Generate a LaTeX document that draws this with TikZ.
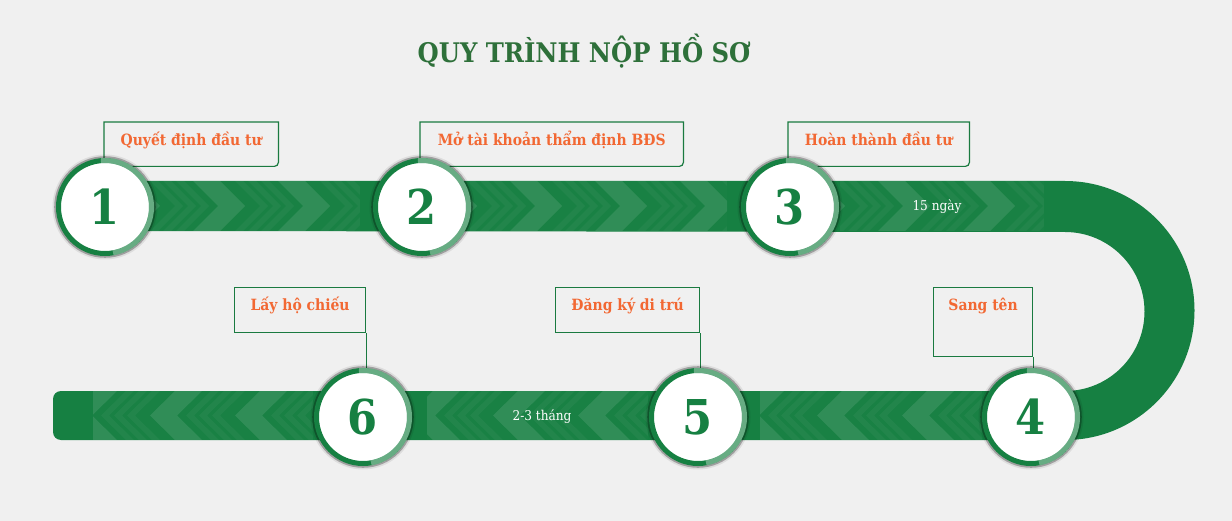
\documentclass[tikz,border=0pt]{standalone}
\usepackage{fontspec}
\setmainfont{DejaVu Serif Condensed}
\usetikzlibrary{positioning}
\definecolor{pagebg}{RGB}{240,240,240}
\definecolor{band}{RGB}{22,128,66}
\definecolor{ttlgreen}{RGB}{46,112,58}
\definecolor{orng}{RGB}{242,104,51}
\definecolor{edge}{RGB}{26,122,64}
% one chevron: right-pointing on the top band, left-pointing on the bottom band
\newcommand{\chevr}[3]{\fill[white, opacity=#3] (#1,181) -- ++(#2,0) -- ++(25,25) -- ++(-25,25) -- ++(-#2,0) -- ++(25,-25) -- cycle;}
\newcommand{\chevl}[3]{\fill[white, opacity=#3] (#1,391) -- ++(-#2,0) -- ++(-25,24.5) -- ++(25,24.5) -- ++(#2,0) -- ++(-25,-24.5) -- cycle;}
\newcommand{\tiler}[1]{\chevr{#1}{8}{.04}\chevr{#1+13}{8}{.04}\chevr{#1+26}{8}{.04}\chevr{#1+43}{27}{.10}}
\newcommand{\tilel}[1]{\chevl{#1}{8}{.04}\chevl{#1-13}{8}{.04}\chevl{#1-26}{8}{.04}\chevl{#1-43}{27}{.10}}

\begin{document}
\begin{tikzpicture}[
  x=1pt, y=-1pt,
  ttl/.style={font=\bfseries\fontsize{27}{30}\selectfont, text=ttlgreen},
  tbox/.style={anchor=north west, inner sep=0pt, text=orng,
               font=\bfseries\fontsize{15.5}{18}\selectfont,
               text height=23pt, text depth=21pt},
  bbox/.style={tbox, draw=edge, line width=1.2pt, text depth=22pt},
  stepc/.style={circle, fill=white, draw=band, line width=5pt, minimum size=93pt,
                inner sep=0pt, text=band, font=\bfseries\fontsize{48}{48}\selectfont},
  ln/.style={draw=edge, line width=1.2pt},
  bandtxt/.style={text=white, font=\fontsize{13.5}{15}\selectfont}
]

\fill[pagebg] (0,0) rectangle (1232,521);
\useasboundingbox (0,0) rectangle (1232,521);

% ---------- title ----------
\node[ttl] (title) at (584,51) {QUY TRÌNH NỘP HỒ SƠ};

% ---------- the road: top band, bend, bottom band ----------
\fill[band] (105,181) -- (1065,181) arc[start angle=90, end angle=-90, radius=129.5pt]
  -- (61,440) arc[start angle=270, end angle=180, radius=8pt]
  -- (53,399) arc[start angle=180, end angle=90, radius=8pt]
  -- (1065,391) arc[start angle=-90, end angle=90, radius=79.5pt]
  -- (105,231) -- cycle;

% chevrons on the top band
\foreach \l/\r/\s in {150/360/150, 470/727/467, 840/1044/835} {
  \begin{scope}
    \clip (\l,181) rectangle (\r,231);
    \fill[white, opacity=.015] (\l,181) rectangle (\r,231);
    \foreach \k in {-1,...,3} {\tiler{\s+85*\k}}
  \end{scope}
}
% chevrons on the bottom band
\foreach \l/\r/\s in {93/313/330, 427/648/758, 760/982/1082} {
  \begin{scope}
    \clip (\l,391) rectangle (\r,440);
    \fill[white, opacity=.015] (\l,391) rectangle (\r,440);
    \foreach \k in {0,...,4} {\tilel{\s-85*\k}}
  \end{scope}
}

\node[bandtxt] (d1) at (937,207) {15 ngày};
\node[bandtxt] (d2) at (542,417) {2-3 tháng};

% ---------- label boxes ----------
\node[tbox, minimum width=174pt] (b1) at (104,122) {Quyết định đầu tư};
\node[tbox, minimum width=263pt] (b2) at (420,122) {Mở tài khoản thẩm định BĐS};
\node[tbox, minimum width=181pt] (b3) at (788,122) {Hoàn thành đầu tư};
\node[bbox, minimum width=131pt] (b6) at (234,287) {Lấy hộ chiếu};
\node[bbox, minimum width=144pt] (b5) at (555,287) {Đăng ký di trú};
\node[bbox, minimum width=99pt, text depth=46pt] (b4) at (933,287) {Sang tên};

% box outlines and leader lines (the circles go on top)
\foreach \i/\y in {1/207,2/207,3/207}
  {\draw[ln] (b\i.north west |- 0,\y) -- (b\i.north west) -- (b\i.north east)
     [rounded corners=4pt] -- (b\i.south east) -- (b\i.south west);}
\foreach \i/\y in {4/417,5/417,6/417}
  {\draw[ln] (b\i.south east) -- (b\i.south east |- 0,\y);}

% ---------- step circles ----------
\foreach \n/\x/\y in {1/105/207, 2/422/207, 3/790/207, 4/1031/417, 5/698/417, 6/363/417} {
  \fill[black, opacity=.08] (\x,\y) circle (52.5pt);
  \fill[black, opacity=.28] (\x,\y) circle (50.8pt);
  \node[stepc] (c\n) at (\x,\y) {\n};
}

% light half of each ring
\foreach \n in {1,...,6}
  {\draw[white, opacity=.35, line width=5pt]
     ([shift={(95:46.5pt)}]c\n.center) arc[start angle=95, end angle=-80, radius=46.5pt];}

\end{tikzpicture}
\end{document}
